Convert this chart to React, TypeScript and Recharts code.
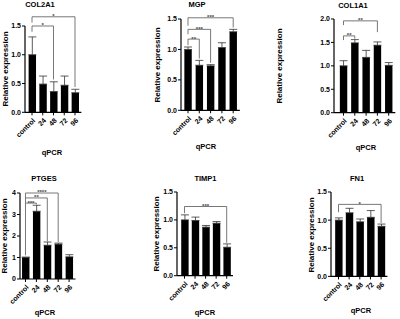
import React from 'react'
import { BarChart, Bar, XAxis, YAxis, ErrorBar, ReferenceLine } from 'recharts'

const categories = ['control', '24', '48', '72', '96']

const col2a1Mean = [1.0, 0.49, 0.36, 0.47, 0.34]
const col2a1Sd = [0.31, 0.14, 0.17, 0.16, 0.06]
const mgpMean = [1.0, 0.74, 0.73, 1.03, 1.29]
const mgpSd = [0.04, 0.08, 0.02, 0.08, 0.04]
const col1a1Mean = [1.0, 1.49, 1.18, 1.44, 1.01]
const col1a1Sd = [0.11, 0.07, 0.15, 0.07, 0.06]
const ptgesMean = [1.0, 3.15, 1.57, 1.62, 1.03]
const ptgesSd = [0.02, 0.28, 0.15, 0.05, 0.1]
const timp1Mean = [1.0, 0.99, 0.87, 0.94, 0.51]
const timp1Sd = [0.09, 0.06, 0.03, 0.03, 0.06]
const fn1Mean = [1.0, 1.13, 0.97, 1.05, 0.89]
const fn1Sd = [0.04, 0.08, 0.05, 0.12, 0.04]

const ticks15 = [0, 0.5, 1.0, 1.5]
const ticks20 = [0, 0.5, 1.0, 1.5, 2.0]
const ticks4 = [0, 1, 2, 3, 4]

type Bracket = { from: string; to: string; y: number; leftEnd: number; rightEnd: number; label: string }

const col2a1Sig: Bracket[] = [
  { from: 'control', to: '96', y: 1.66, leftEnd: 1.56, rightEnd: 0.44, label: '*' },
  { from: 'control', to: '48', y: 1.5, leftEnd: 1.4, rightEnd: 0.57, label: '*' },
]
const mgpSig: Bracket[] = [
  { from: 'control', to: '96', y: 1.52, leftEnd: 1.39, rightEnd: 1.36, label: '***' },
  { from: 'control', to: '48', y: 1.33, leftEnd: 1.25, rightEnd: 0.78, label: '***' },
  { from: 'control', to: '24', y: 1.17, leftEnd: 1.07, rightEnd: 0.85, label: '**' },
]
const col1a1Sig: Bracket[] = [
  { from: 'control', to: '72', y: 1.96, leftEnd: 1.87, rightEnd: 1.72, label: '**' },
  { from: 'control', to: '24', y: 1.64, leftEnd: 1.55, rightEnd: 1.58, label: '**' },
]
const ptgesSig: Bracket[] = [
  { from: 'control', to: '72', y: 4.0, leftEnd: 3.77, rightEnd: 1.72, label: '****' },
  { from: 'control', to: '48', y: 3.77, leftEnd: 3.53, rightEnd: 1.75, label: '**' },
  { from: 'control', to: '24', y: 3.53, leftEnd: 1.1, rightEnd: 3.47, label: '***' },
]
const timp1Sig: Bracket[] = [
  { from: 'control', to: '96', y: 1.24, leftEnd: 1.12, rightEnd: 0.59, label: '***' },
]
const fn1Sig: Bracket[] = [
  { from: 'control', to: '96', y: 1.28, leftEnd: 1.14, rightEnd: 0.95, label: '*' },
]

const FONT = '"Liberation Sans", Arial, sans-serif'

type Layout = {
  axisX: number
  topY: number
  zeroY: number
  first: number
  step: number
  titleX: number
  titleY: number
  yLabelX: number
  xLabelX: number
  xLabelY: number
}

function XTick({ x, y, payload }: any) {
  const ax = x + 2
  const ay = y + 2
  return (
    <text
      x={ax}
      y={ay}
      transform={`rotate(-45 ${ax} ${ay})`}
      textAnchor="end"
      dy="0.35em"
      fontSize={7}
      fontWeight="bold"
      fontFamily={FONT}
      fill="#000"
    >
      {payload.value}
    </text>
  )
}

const textBase: React.CSSProperties = {
  position: 'absolute',
  fontFamily: FONT,
  fontWeight: 'bold',
  whiteSpace: 'nowrap',
  lineHeight: 1,
  color: '#000',
}

function Panel({
  title,
  means,
  errs,
  ticks,
  decimals,
  sig,
  lay,
}: {
  title: string
  means: number[]
  errs: number[]
  ticks: number[]
  decimals: number
  sig: Bracket[]
  lay: Layout
}) {
  const data = categories.map((c, i) => ({ name: c, value: means[i], err: [0, errs[i]] }))
  const yw = 24
  const mt = 30
  const xh = 40
  const mr = 2
  const padL = Math.max(0, lay.first - lay.step / 2 - lay.axisX)
  const plotW = padL + 5 * lay.step + 1
  const plotH = lay.zeroY - lay.topY
  const yMax = ticks[ticks.length - 1]
  const line = { stroke: '#000', strokeWidth: 1.2 }
  const bracket = { stroke: '#555', strokeWidth: 0.8 }

  return (
    <>
      <div style={{ position: 'absolute', left: lay.axisX - yw, top: lay.topY - mt }}>
        <BarChart
          width={yw + plotW + mr}
          height={mt + plotH + xh}
          data={data}
          margin={{ top: mt, right: mr, left: 0, bottom: 0 }}
        >
          <XAxis
            dataKey="name"
            interval={0}
            padding={{ left: padL, right: 1 }}
            tickSize={3}
            height={xh}
            tick={<XTick />}
            axisLine={line}
            tickLine={{ stroke: '#000', strokeWidth: 1 }}
          />
          <YAxis
            type="number"
            domain={[0, yMax]}
            ticks={ticks}
            interval={0}
            width={yw}
            tickSize={3}
            tickMargin={1}
            tickFormatter={(v: number) => v.toFixed(decimals)}
            tick={{ fontSize: 7, fontWeight: 'bold', fontFamily: FONT, fill: '#000' }}
            axisLine={line}
            tickLine={{ stroke: '#000', strokeWidth: 1 }}
          />
          <Bar dataKey="value" fill="#000" barSize={7.4} isAnimationActive={false}>
            <ErrorBar dataKey="err" width={4} stroke="#333" strokeWidth={0.8} />
          </Bar>
          {sig.map((b, i) => (
            <ReferenceLine
              key={`h${i}`}
              segment={[{ x: b.from, y: b.y }, { x: b.to, y: b.y }]}
              ifOverflow="visible"
              {...bracket}
              label={{
                value: b.label,
                position: 'top',
                offset: -1.5,
                fontSize: 6,
                fontWeight: 'bold',
                fontFamily: FONT,
                fill: '#444',
              }}
            />
          ))}
          {sig.map((b, i) => (
            <ReferenceLine
              key={`l${i}`}
              segment={[{ x: b.from, y: b.y }, { x: b.from, y: b.leftEnd }]}
              ifOverflow="visible"
              {...bracket}
            />
          ))}
          {sig.map((b, i) => (
            <ReferenceLine
              key={`r${i}`}
              segment={[{ x: b.to, y: b.y }, { x: b.to, y: b.rightEnd }]}
              ifOverflow="visible"
              {...bracket}
            />
          ))}
        </BarChart>
      </div>
      <div style={{ ...textBase, fontSize: 7.5, left: lay.titleX, top: lay.titleY, transform: 'translate(-50%, -50%)' }}>
        {title}
      </div>
      <div
        style={{
          ...textBase,
          fontSize: 8,
          left: lay.yLabelX,
          top: (lay.topY + lay.zeroY) / 2,
          transform: 'translate(-50%, -50%) rotate(-90deg)',
        }}
      >
        Relative expression
      </div>
      <div style={{ ...textBase, fontSize: 7.5, left: lay.xLabelX, top: lay.xLabelY, transform: 'translate(-50%, -50%)' }}>
        qPCR
      </div>
    </>
  )
}

export default function App() {
  return (
    <div style={{ position: 'absolute', left: 0, top: 0, width: 400, height: 319, background: '#fff', overflow: 'hidden' }}>
      <Panel
        title="COL2A1"
        means={col2a1Mean}
        errs={col2a1Sd}
        ticks={ticks15}
        decimals={1}
        sig={col2a1Sig}
        lay={{ axisX: 25, topY: 25.7, zeroY: 112, first: 32, step: 10.75, titleX: 40, titleY: 5, yLabelX: 6, xLabelX: 52, xLabelY: 153 }}
      />
      <Panel
        title="MGP"
        means={mgpMean}
        errs={mgpSd}
        ticks={ticks15}
        decimals={1}
        sig={mgpSig}
        lay={{ axisX: 181, topY: 19, zeroY: 110.3, first: 188, step: 11.3, titleX: 197, titleY: 5, yLabelX: 158, xLabelX: 206, xLabelY: 147 }}
      />
      <Panel
        title="COL1A1"
        means={col1a1Mean}
        errs={col1a1Sd}
        ticks={ticks20}
        decimals={1}
        sig={col1a1Sig}
        lay={{ axisX: 334, topY: 19, zeroY: 112.7, first: 343.5, step: 11.3, titleX: 353, titleY: 6, yLabelX: 280, xLabelX: 366, xLabelY: 148 }}
      />
      <Panel
        title="PTGES"
        means={ptgesMean}
        errs={ptgesSd}
        ticks={ticks4}
        decimals={0}
        sig={ptgesSig}
        lay={{ axisX: 20, topY: 193.3, zeroY: 279.3, first: 25.5, step: 10.9, titleX: 44, titleY: 179, yLabelX: 5, xLabelX: 45, xLabelY: 313 }}
      />
      <Panel
        title="TIMP1"
        means={timp1Mean}
        errs={timp1Sd}
        ticks={ticks15}
        decimals={1}
        sig={timp1Sig}
        lay={{ axisX: 177, topY: 192.3, zeroY: 276, first: 184.5, step: 10.55, titleX: 205.5, titleY: 179, yLabelX: 157, xLabelX: 205, xLabelY: 313 }}
      />
      <Panel
        title="FN1"
        means={fn1Mean}
        errs={fn1Sd}
        ticks={ticks15}
        decimals={1}
        sig={fn1Sig}
        lay={{ axisX: 331, topY: 192.3, zeroY: 276.7, first: 338.5, step: 10.65, titleX: 357, titleY: 179, yLabelX: 311.5, xLabelX: 361, xLabelY: 311 }}
      />
    </div>
  )
}
